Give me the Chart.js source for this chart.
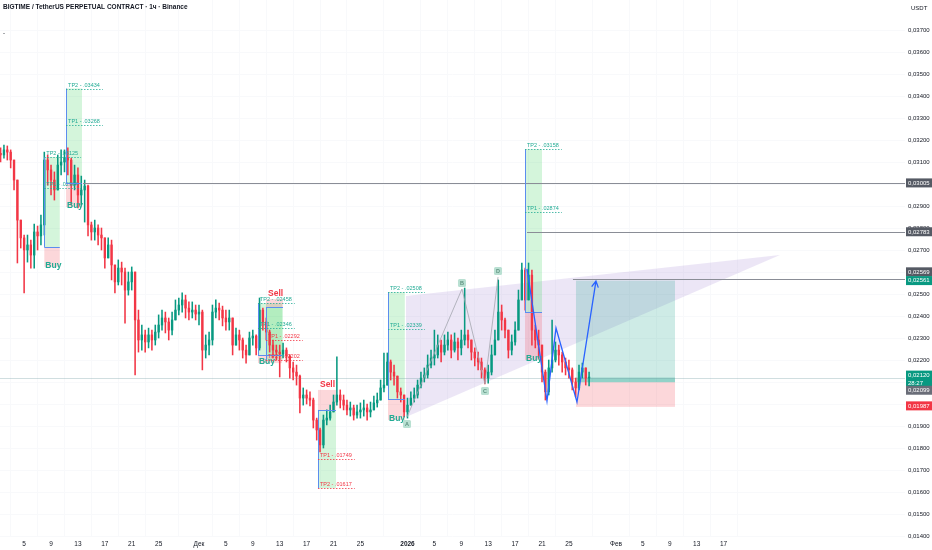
<!DOCTYPE html>
<html>
<head>
<meta charset="utf-8">
<script src="https://cdn.jsdelivr.net/npm/chart.js@4.4.1/dist/chart.umd.min.js"></script>
<style>
  html, body { margin: 0; background: #ffffff; }
  canvas { display: block; }
</style>
</head>
<body>
<canvas id="chart" width="932" height="550"></canvas>
<script>
// time axis is in days counted from 1 Nov 2025 00:00, one candle = 12h
const firstCandleDay = 0.5;
const candleStep = 0.5;
const firstOpen = 0.03140;

const closes = [
  0.03132, 0.03155, 0.03145, 0.03109, 0.03018, 0.02836, 0.02755, 0.02700, 0.02723, 0.02677,
  0.02782, 0.02764, 0.02814, 0.03109, 0.03064, 0.03018, 0.02973, 0.03086, 0.03100, 0.03118,
  0.03109, 0.02995, 0.03041, 0.02950, 0.02973, 0.02991, 0.02814, 0.02782, 0.02800, 0.02768,
  0.02755, 0.02664, 0.02723, 0.02632, 0.02555, 0.02618, 0.02600, 0.02518, 0.02555, 0.02600,
  0.02382, 0.02291, 0.02314, 0.02282, 0.02314, 0.02291, 0.02327, 0.02359, 0.02391, 0.02373,
  0.02336, 0.02382, 0.02427, 0.02450, 0.02473, 0.02436, 0.02418, 0.02427, 0.02409, 0.02418,
  0.02245, 0.02268, 0.02291, 0.02418, 0.02436, 0.02427, 0.02391, 0.02373, 0.02391, 0.02268,
  0.02314, 0.02291, 0.02245, 0.02223, 0.02300, 0.02309, 0.02255, 0.02427, 0.02373, 0.02327,
  0.02268, 0.02245, 0.02236, 0.02227, 0.02245, 0.02218, 0.02164, 0.02145, 0.02127, 0.02027,
  0.02041, 0.02027, 0.02018, 0.01927, 0.01882, 0.01814, 0.01927, 0.01936, 0.01964, 0.02009,
  0.02041, 0.02018, 0.01995, 0.01973, 0.01982, 0.01950, 0.01964, 0.01973, 0.01982, 0.01964,
  0.01973, 0.02005, 0.02018, 0.02073, 0.02086, 0.02191, 0.02145, 0.02127, 0.02055, 0.02041,
  0.01964, 0.01995, 0.02027, 0.02041, 0.02086, 0.02118, 0.02132, 0.02177, 0.02209, 0.02223,
  0.02268, 0.02236, 0.02268, 0.02291, 0.02245, 0.02282, 0.02255, 0.02291, 0.02314, 0.02291,
  0.02236, 0.02209, 0.02191, 0.02155, 0.02118, 0.02145, 0.02223, 0.02291, 0.02418, 0.02382,
  0.02336, 0.02245, 0.02282, 0.02336, 0.02473, 0.02609, 0.02473, 0.02586, 0.02336, 0.02291,
  0.02268, 0.02145, 0.02055, 0.02164, 0.02200, 0.02245, 0.02223, 0.02191, 0.02164, 0.02155,
  0.02100, 0.02073, 0.02145, 0.02164, 0.02118, 0.02120
];
const highs = [
  0.03164, 0.03177, 0.03173, 0.03155, 0.03086, 0.02927, 0.02814, 0.02768, 0.02768, 0.02745,
  0.02818, 0.02809, 0.02859, 0.03145, 0.03132, 0.03086, 0.03055, 0.03132, 0.03155, 0.03155,
  0.03164, 0.03118, 0.03086, 0.03073, 0.03036, 0.03018, 0.02995, 0.02827, 0.02836, 0.02814,
  0.02800, 0.02755, 0.02755, 0.02745, 0.02632, 0.02655, 0.02645, 0.02618, 0.02600, 0.02623,
  0.02541, 0.02427, 0.02359, 0.02336, 0.02345, 0.02336, 0.02359, 0.02405, 0.02427, 0.02418,
  0.02391, 0.02418, 0.02473, 0.02482, 0.02505, 0.02495, 0.02464, 0.02464, 0.02450, 0.02450,
  0.02427, 0.02314, 0.02327, 0.02450, 0.02473, 0.02459, 0.02445, 0.02427, 0.02427, 0.02391,
  0.02345, 0.02336, 0.02300, 0.02268, 0.02327, 0.02336, 0.02314, 0.02482, 0.02436, 0.02391,
  0.02336, 0.02291, 0.02268, 0.02268, 0.02277, 0.02255, 0.02223, 0.02191, 0.02177, 0.02132,
  0.02073, 0.02064, 0.02055, 0.02027, 0.01936, 0.01891, 0.01950, 0.01973, 0.01995, 0.02041,
  0.02214, 0.02064, 0.02041, 0.02018, 0.02009, 0.01995, 0.01995, 0.02005, 0.02018, 0.02000,
  0.02009, 0.02036, 0.02050, 0.02109, 0.02232, 0.02232, 0.02200, 0.02177, 0.02127, 0.02073,
  0.02041, 0.02027, 0.02055, 0.02073, 0.02109, 0.02145, 0.02164, 0.02223, 0.02245, 0.02336,
  0.02314, 0.02291, 0.02314, 0.02327, 0.02314, 0.02323, 0.02300, 0.02336, 0.02527, 0.02336,
  0.02291, 0.02255, 0.02236, 0.02209, 0.02164, 0.02177, 0.02268, 0.02336, 0.02564, 0.02450,
  0.02391, 0.02336, 0.02314, 0.02373, 0.02518, 0.02641, 0.02618, 0.02641, 0.02609, 0.02359,
  0.02336, 0.02268, 0.02155, 0.02200, 0.02382, 0.02282, 0.02268, 0.02236, 0.02209, 0.02200,
  0.02164, 0.02118, 0.02177, 0.02186, 0.02164, 0.02145
];
const lows = [
  0.03100, 0.03118, 0.03109, 0.03073, 0.02973, 0.02641, 0.02709, 0.02505, 0.02645, 0.02618,
  0.02618, 0.02700, 0.02723, 0.02768, 0.02995, 0.02950, 0.02927, 0.03018, 0.03041, 0.03055,
  0.03041, 0.02905, 0.02973, 0.02891, 0.02905, 0.02827, 0.02764, 0.02745, 0.02745, 0.02723,
  0.02700, 0.02618, 0.02664, 0.02564, 0.02505, 0.02541, 0.02541, 0.02368, 0.02495, 0.02518,
  0.02132, 0.02236, 0.02245, 0.02236, 0.02255, 0.02245, 0.02268, 0.02300, 0.02336, 0.02323,
  0.02291, 0.02314, 0.02382, 0.02405, 0.02418, 0.02391, 0.02382, 0.02391, 0.02382, 0.02359,
  0.02155, 0.02209, 0.02223, 0.02268, 0.02391, 0.02382, 0.02355, 0.02336, 0.02336, 0.02223,
  0.02268, 0.02245, 0.02209, 0.02186, 0.02255, 0.02268, 0.02223, 0.02245, 0.02336, 0.02291,
  0.02236, 0.02209, 0.02200, 0.02123, 0.02209, 0.02191, 0.02118, 0.02109, 0.02086, 0.01959,
  0.01995, 0.02000, 0.01991, 0.01891, 0.01836, 0.01782, 0.01800, 0.01905, 0.01927, 0.01964,
  0.01995, 0.01982, 0.01973, 0.01950, 0.01945, 0.01927, 0.01936, 0.01936, 0.01945, 0.01927,
  0.01941, 0.01973, 0.01986, 0.02018, 0.02055, 0.02118, 0.02109, 0.02086, 0.02027, 0.02009,
  0.01941, 0.01936, 0.01995, 0.02009, 0.02027, 0.02073, 0.02100, 0.02118, 0.02164, 0.02177,
  0.02209, 0.02191, 0.02223, 0.02245, 0.02209, 0.02236, 0.02200, 0.02223, 0.02268, 0.02255,
  0.02200, 0.02173, 0.02155, 0.02118, 0.02091, 0.02095, 0.02132, 0.02223, 0.02291, 0.02336,
  0.02300, 0.02209, 0.02223, 0.02268, 0.02336, 0.02473, 0.02427, 0.02473, 0.02268, 0.02255,
  0.02209, 0.02100, 0.02018, 0.02041, 0.02145, 0.02191, 0.02177, 0.02145, 0.02132, 0.02118,
  0.02064, 0.02032, 0.02064, 0.02118, 0.02086, 0.02082
];

// axis labels
const timeTickDays = [4, 8, 12, 16, 20, 24, 30, 34, 38, 42, 46, 50, 54, 61, 65, 69, 73, 77, 81, 85, 92, 96, 100, 104, 108];
const timeTickLabels = ['5', '9', '13', '17', '21', '25', 'Дек', '5', '9', '13', '17', '21', '25', '2026', '5', '9', '13', '17', '21', '25', 'Фев', '5', '9', '13', '17'];
const priceTicks = [0.014, 0.015, 0.016, 0.017, 0.018, 0.019, 0.020, 0.021, 0.022, 0.023, 0.024, 0.025,
  0.026, 0.027, 0.028, 0.029, 0.030, 0.031, 0.032, 0.033, 0.034, 0.035, 0.036, 0.037];

// drawings (time in days, price in USDT)
const signals = [
  { side: 'Buy',  t0: 7.0,   t1: 9.3,   entry: 0.02714, stop: 0.02623, tp1: 0.02982, tp2: 0.03123, tp1Text: '.02964', tp2Text: '.03125' },
  { side: 'Buy',  t0: 10.23, t1: 12.6,  entry: 0.03005, stop: 0.02895, tp1: 0.03268, tp2: 0.03434, tp1Text: '.03268', tp2Text: '.03434' },
  { side: 'Buy',  t0: 38.77, t1: 42.34, entry: 0.02223, stop: 0.02186, tp1: 0.02346, tp2: 0.02458, tp1Text: '.02346', tp2Text: '.02458' },
  { side: 'Sell', t0: 39.96, t1: 42.49, entry: 0.02441, stop: 0.02477, tp1: 0.02292, tp2: 0.02202, tp1Text: '.02292', tp2Text: '.02202' },
  { side: 'Sell', t0: 47.69, t1: 50.37, entry: 0.01973, stop: 0.02064, tp1: 0.01749, tp2: 0.01617, tp1Text: '.01749', tp2Text: '.01617' },
  { side: 'Buy',  t0: 58.1,  t1: 60.6,  entry: 0.02023, stop: 0.01927, tp1: 0.02339, tp2: 0.02508, tp1Text: '.02339', tp2Text: '.02508' },
  { side: 'Buy',  t0: 78.47, t1: 81.0,  entry: 0.02418, stop: 0.02200, tp1: 0.02874, tp2: 0.03158, tp1Text: '.02874', tp2Text: '.03158' }
];
const levelPrices = [0.03005, 0.02783, 0.02569];
const levelStarts = [12.75, 78.77, 85.6];

const wedgeTimes = [60.78, 116.38, 60.78];
const wedgePrices = [0.02491, 0.02677, 0.01941];

const patternNames = ['A', 'B', 'C', 'D'];
const patternTimes = [60.93, 69.1, 72.52, 74.46];
const patternPrices = [0.01941, 0.02523, 0.02091, 0.02577];

const pathTimes = [78.77, 81.74, 83.08, 86.2, 89.02];
const pathPrices = [0.02614, 0.02014, 0.02345, 0.02009, 0.02559];

const position = { t0: 86.05, t1: 100.77, entry: 0.02099, target: 0.02561, stop: 0.01987 };
const lastPrice = 0.02120;
const countdown = '28:27';

const FONT = "'Liberation Sans', Arial, sans-serif";
const UP = '#089981';
const DOWN = '#f23645';

const candles = closes.map((c, i) => {
  const o = i === 0 ? firstOpen : closes[i - 1];
  return { t: firstCandleDay + i * candleStep, o: o, c: c, h: Math.max(highs[i], o, c), l: Math.min(lows[i], o, c) };
});
const candleColors = candles.map(k => k.c >= k.o ? UP : DOWN);

const fmt = v => v.toFixed(5).replace('.', ',');

const drawings = {
  id: 'drawings',
  beforeDatasetsDraw(chart) {
    const { ctx, chartArea: a, scales: { x, y } } = chart;
    ctx.save();
    ctx.beginPath();
    ctx.rect(a.left, a.top, a.right - a.left, a.bottom - a.top);
    ctx.clip();

    // wedge
    ctx.fillStyle = 'rgba(126, 87, 194, 0.15)';
    ctx.beginPath();
    wedgeTimes.forEach((t, i) => {
      const X = x.getPixelForValue(t), Y = y.getPixelForValue(wedgePrices[i]);
      if (i === 0) ctx.moveTo(X, Y); else ctx.lineTo(X, Y);
    });
    ctx.closePath();
    ctx.fill();

    // long position tool
    const L = x.getPixelForValue(position.t0), R = x.getPixelForValue(position.t1);
    const yE = y.getPixelForValue(position.entry), yT = y.getPixelForValue(position.target);
    const yS = y.getPixelForValue(position.stop), yC = y.getPixelForValue(lastPrice);
    ctx.fillStyle = 'rgba(8, 153, 129, 0.2)';
    ctx.fillRect(L, yT, R - L, yE - yT);
    ctx.fillStyle = 'rgba(8, 153, 129, 0.3)';
    ctx.fillRect(L, yC, R - L, yE - yC);
    ctx.fillStyle = 'rgba(242, 54, 69, 0.2)';
    ctx.fillRect(L, yE, R - L, yS - yE);

    // signal boxes
    signals.forEach(s => {
      const l = x.getPixelForValue(s.t0), r = x.getPixelForValue(s.t1);
      const e = y.getPixelForValue(s.entry), tp = y.getPixelForValue(s.tp2), st = y.getPixelForValue(s.stop);
      ctx.fillStyle = 'rgba(60, 210, 90, 0.22)';
      ctx.fillRect(l, Math.min(e, tp), r - l, Math.abs(e - tp));
      ctx.fillStyle = 'rgba(242, 54, 69, 0.2)';
      ctx.fillRect(l, Math.min(e, st), r - l, Math.abs(e - st));
    });

    // last price line
    ctx.strokeStyle = 'rgba(120, 160, 165, 0.35)';
    ctx.lineWidth = 1;
    ctx.beginPath();
    ctx.moveTo(a.left, Math.round(yC) + 0.5);
    ctx.lineTo(a.right, Math.round(yC) + 0.5);
    ctx.stroke();
    ctx.restore();
  },
  afterDatasetsDraw(chart) {
    const { ctx, chartArea: a, scales: { x, y } } = chart;
    ctx.save();
    ctx.beginPath();
    ctx.rect(a.left, a.top, a.right - a.left, a.bottom - a.top);
    ctx.clip();

    // horizontal levels
    ctx.strokeStyle = '#8a8d96';
    ctx.lineWidth = 1;
    levelPrices.forEach((p, i) => {
      const Y = Math.round(y.getPixelForValue(p)) + 0.5;
      ctx.beginPath();
      ctx.moveTo(x.getPixelForValue(levelStarts[i]), Y);
      ctx.lineTo(a.right, Y);
      ctx.stroke();
    });

    // signals: entry line, TP markers, side label
    signals.forEach(s => {
      const l = x.getPixelForValue(s.t0), r = x.getPixelForValue(s.t1);
      const e = y.getPixelForValue(s.entry), tp = y.getPixelForValue(s.tp2), st = y.getPixelForValue(s.stop);
      const tpColor = s.side === 'Buy' ? '#22ab94' : '#f23645';
      ctx.setLineDash([]);
      ctx.strokeStyle = '#5b8def';
      ctx.lineWidth = 1;
      ctx.beginPath();
      ctx.moveTo(Math.round(l) + 0.5, tp);
      ctx.lineTo(Math.round(l) + 0.5, e);
      ctx.moveTo(l, Math.round(e) + 0.5);
      ctx.lineTo(r, Math.round(e) + 0.5);
      ctx.stroke();

      ctx.font = '5.5px ' + FONT;
      ctx.textBaseline = 'bottom';
      ctx.textAlign = 'left';
      [['TP1', s.tp1, s.tp1Text], ['TP2', s.tp2, s.tp2Text]].forEach(([name, p, txt]) => {
        const Y = Math.round(y.getPixelForValue(p)) + 0.5;
        const label = name + ' - ' + txt;
        const w = ctx.measureText(label).width;
        ctx.strokeStyle = tpColor;
        ctx.lineWidth = 0.8;
        ctx.setLineDash([1.5, 1.5]);
        ctx.beginPath();
        ctx.moveTo(l, Y);
        ctx.lineTo(l + w + 5, Y);
        ctx.stroke();
        ctx.fillStyle = tpColor;
        ctx.fillText(label, l + 2, Y - 1);
      });
      ctx.setLineDash([]);

      ctx.font = 'bold 8.5px ' + FONT;
      ctx.textBaseline = 'middle';
      if (s.side === 'Buy') {
        ctx.fillStyle = '#22ab94';
        ctx.fillText('Buy', l + 1, st - 1);
      } else {
        ctx.fillStyle = '#f23645';
        ctx.fillText('Sell', l + 2, st - 5);
      }
    });

    // ABCD pattern
    ctx.strokeStyle = '#a3a6af';
    ctx.lineWidth = 0.8;
    ctx.beginPath();
    patternTimes.forEach((t, i) => {
      const X = x.getPixelForValue(t), Y = y.getPixelForValue(patternPrices[i]);
      if (i === 0) ctx.moveTo(X, Y); else ctx.lineTo(X, Y);
    });
    ctx.stroke();
    ctx.font = 'bold 5.5px ' + FONT;
    ctx.textAlign = 'center';
    ctx.textBaseline = 'middle';
    patternTimes.forEach((t, i) => {
      const X = x.getPixelForValue(t);
      const below = i % 2 === 0;
      const Y = y.getPixelForValue(patternPrices[i]) + (below ? 7 : -6);
      ctx.fillStyle = '#b9e0d2';
      ctx.beginPath();
      ctx.roundRect(X - 4, Y - 4, 8, 8, 1.5);
      ctx.fill();
      ctx.fillStyle = '#5f9280';
      ctx.fillText(patternNames[i], X, Y + 0.5);
    });

    // projected path with arrow
    ctx.strokeStyle = '#2962ff';
    ctx.lineWidth = 1.3;
    ctx.beginPath();
    const pts = pathTimes.map((t, i) => [x.getPixelForValue(t), y.getPixelForValue(pathPrices[i])]);
    pts.forEach(([X, Y], i) => { if (i === 0) ctx.moveTo(X, Y); else ctx.lineTo(X, Y); });
    const [ex, ey] = pts[pts.length - 1], [bx, by] = pts[pts.length - 2];
    const ang = Math.atan2(ey - by, ex - bx);
    ctx.moveTo(ex - 7 * Math.cos(ang - 0.5), ey - 7 * Math.sin(ang - 0.5));
    ctx.lineTo(ex, ey);
    ctx.lineTo(ex - 7 * Math.cos(ang + 0.5), ey - 7 * Math.sin(ang + 0.5));
    ctx.stroke();
    ctx.restore();
  },
  afterDraw(chart) {
    const { ctx, chartArea: a, scales: { y } } = chart;
    ctx.save();
    ctx.font = '6px ' + FONT;
    ctx.textBaseline = 'middle';
    ctx.textAlign = 'left';
    const tag = (p, bg, shift, extra) => {
      const Y = y.getPixelForValue(p) + shift;
      const h = extra ? 17 : 9;
      const top = extra ? Y - 5 : Y - h / 2;
      ctx.fillStyle = bg;
      ctx.fillRect(a.right + 1, top, 26, h);
      ctx.fillStyle = '#ffffff';
      ctx.fillText(fmt(p), a.right + 3, top + 4.7);
      if (extra) ctx.fillText(extra, a.right + 3, top + 12.5);
    };
    tag(0.03005, '#555a64', 0);
    tag(0.02783, '#555a64', 0);
    tag(0.02569, '#555a64', -7);
    tag(0.02561, '#089981', 0);
    tag(position.stop, '#f23645', -1);
    tag(lastPrice, '#089981', -2, countdown);
    tag(position.entry, '#6a6d78', 8);

    ctx.fillStyle = '#131722';
    ctx.fillText('USDT', 911, 8);
    ctx.font = '600 6.5px ' + FONT;
    ctx.fillText('BIGTIME / TetherUS PERPETUAL CONTRACT · 1ч · Binance', 3, 7);
    ctx.font = '6px ' + FONT;
    ctx.fillText('-', 3, 33);
    ctx.restore();
  }
};

new Chart(document.getElementById('chart'), {
  type: 'bar',
  data: {
    datasets: [
      { label: 'wicks', data: candles.map(k => ({ x: k.t, y: [k.l, k.h] })), backgroundColor: candleColors, barThickness: 0.9, grouped: false, order: 2 },
      { label: 'bodies', data: candles.map(k => ({ x: k.t, y: [k.o, k.c] })), backgroundColor: candleColors, barThickness: 1.7, minBarLength: 1, grouped: false, order: 1 }
    ]
  },
  options: {
    responsive: false,
    animation: false,
    layout: { padding: 0 },
    plugins: { legend: { display: false }, tooltip: { enabled: false } },
    scales: {
      x: {
        type: 'linear',
        min: 0.413,
        max: 134.97,
        offset: false,
        afterBuildTicks: s => { s.ticks = timeTickDays.map(v => ({ value: v })); },
        afterFit: s => { s.height = 13; s.paddingLeft = 0; s.paddingRight = 0; },
        ticks: {
          autoSkip: false,
          maxRotation: 0,
          padding: 3,
          color: '#131722',
          font: ctx => ({ family: FONT, size: 6.5, weight: timeTickLabels[ctx.index] === '2026' ? 'bold' : 'normal' }),
          callback: (v, i) => timeTickLabels[i]
        },
        grid: { color: '#f8f9fb', drawTicks: false },
        border: { display: false }
      },
      y: {
        position: 'right',
        min: 0.013955,
        max: 0.038364,
        afterBuildTicks: s => { s.ticks = priceTicks.map(v => ({ value: v })); },
        afterFit: s => { s.width = 27; s.paddingTop = 0; s.paddingBottom = 0; },
        ticks: {
          padding: 3,
          color: '#131722',
          font: { family: FONT, size: 6 },
          callback: v => fmt(v)
        },
        grid: { color: '#f8f9fb', drawTicks: false },
        border: { display: false }
      }
    }
  },
  plugins: [drawings]
});
</script>
</body>
</html>
